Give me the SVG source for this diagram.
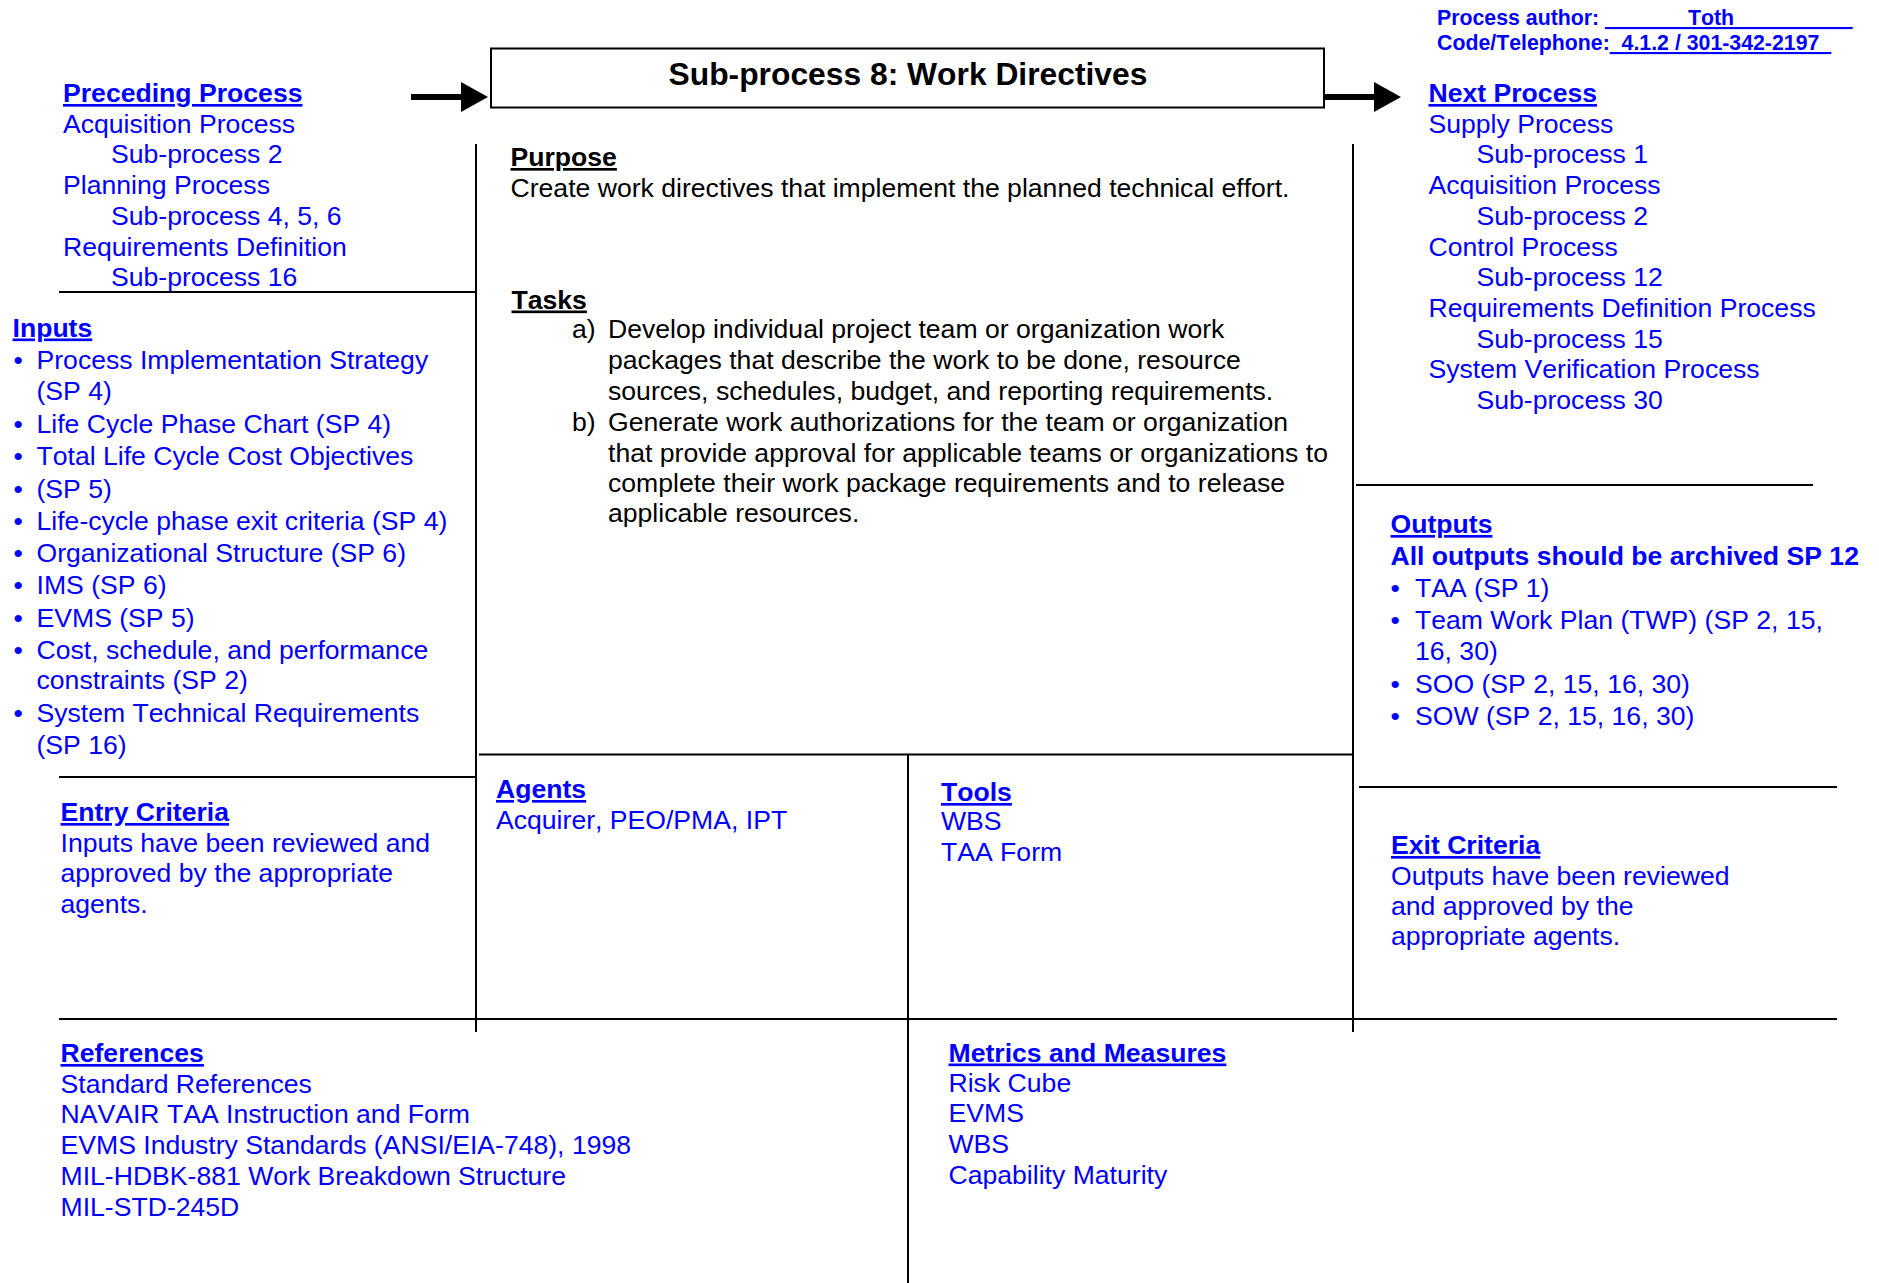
<svg xmlns="http://www.w3.org/2000/svg" width="1879" height="1283" viewBox="0 0 1879 1283">
<style>
text { font-family: "Liberation Sans", Arial, sans-serif; font-size: 26.6px; fill: #0000ff; font-kerning: none; }
.h { font-weight: bold; text-decoration: underline; }
.k { fill: #000000; }
.b { font-weight: bold; }
.meta { font-size: 21.3px; font-weight: bold; }
.title { font-size: 31.8px; font-weight: bold; fill: #000000; }
.ln { stroke: #000000; stroke-width: 2; fill: none; }
.arrow { stroke: #000000; stroke-width: 6; fill: none; marker-end: url(#ah); }
</style>
<defs>
<marker id="ah" markerUnits="userSpaceOnUse" markerWidth="27" markerHeight="30" viewBox="0 0 27 30" refX="0" refY="15" orient="auto">
<path d="M0,0 L27,15 L0,30 Z" fill="#000000"/>
</marker>
</defs>
<rect width="1879" height="1283" fill="#ffffff"/>

<g id="frame-lines">
<line class="ln" x1="59" y1="292" x2="476" y2="292"/>
<line class="ln" x1="476" y1="144" x2="476" y2="1032"/>
<line class="ln" x1="59" y1="777" x2="476" y2="777"/>
<line class="ln" x1="479" y1="754.5" x2="1353" y2="754.5"/>
<line class="ln" x1="908" y1="754" x2="908" y2="1283"/>
<line class="ln" x1="1353" y1="144" x2="1353" y2="1032"/>
<line class="ln" x1="1356" y1="485" x2="1813" y2="485"/>
<line class="ln" x1="1359" y1="787" x2="1837" y2="787"/>
<line class="ln" x1="59" y1="1019" x2="1837" y2="1019"/>
</g>

<g id="connectors">
<line class="arrow" x1="411" y1="97" x2="461" y2="97"/>
<line class="arrow" x1="1324" y1="97" x2="1374" y2="97"/>
</g>

<g id="title-node">
<rect x="491" y="48.5" width="833" height="59" fill="#ffffff" stroke="#000000" stroke-width="2"/>
<text class="title" x="908" y="85" text-anchor="middle">Sub-process 8: Work Directives</text>
</g>

<g id="author">
<text class="meta" x="1437" y="25">Process author: <tspan text-decoration="underline">_______Toth__________</tspan></text>
<text class="meta" x="1437" y="50">Code/Telephone:<tspan text-decoration="underline">_4.1.2 / 301-342-2197_</tspan></text>
</g>

<g id="preceding-process">
<text class="h" x="63" y="102">Preceding Process</text>
<text x="63" y="132.5">Acquisition Process</text>
<text x="111" y="163">Sub-process 2</text>
<text x="63" y="194">Planning Process</text>
<text x="111" y="224.5">Sub-process 4, 5, 6</text>
<text x="63" y="255.5">Requirements Definition</text>
<text x="111" y="286">Sub-process 16</text>
</g>

<g id="inputs">
<text class="h" x="12.5" y="336.5">Inputs</text>
<text x="13.5" y="369">•</text><text x="36.5" y="369">Process Implementation Strategy</text>
<text x="36.5" y="400">(SP 4)</text>
<text x="13.5" y="433">•</text><text x="36.5" y="433">Life Cycle Phase Chart (SP 4)</text>
<text x="13.5" y="465">•</text><text x="36.5" y="465">Total Life Cycle Cost Objectives</text>
<text x="13.5" y="497.5">•</text><text x="36.5" y="497.5">(SP 5)</text>
<text x="13.5" y="530">•</text><text x="36.5" y="530">Life-cycle phase exit criteria (SP 4)</text>
<text x="13.5" y="562">•</text><text x="36.5" y="562">Organizational Structure (SP 6)</text>
<text x="13.5" y="594">•</text><text x="36.5" y="594">IMS (SP 6)</text>
<text x="13.5" y="626.5">•</text><text x="36.5" y="626.5">EVMS (SP 5)</text>
<text x="13.5" y="659">•</text><text x="36.5" y="659">Cost, schedule, and performance</text>
<text x="36.5" y="689">constraints (SP 2)</text>
<text x="13.5" y="722">•</text><text x="36.5" y="722">System Technical Requirements</text>
<text x="36.5" y="753.5">(SP 16)</text>
</g>

<g id="entry-criteria">
<text class="h" x="60.5" y="821">Entry Criteria</text>
<text x="60.5" y="851.5">Inputs have been reviewed and</text>
<text x="60.5" y="881.5">approved by the appropriate</text>
<text x="60.5" y="912.5">agents.</text>
</g>

<g id="purpose-tasks">
<text class="h k" x="510.5" y="166">Purpose</text>
<text class="k" x="510.5" y="197">Create work directives that implement the planned technical effort.</text>
<text class="h k" x="511.5" y="308.5">Tasks</text>
<text class="k" x="572" y="338">a)</text>
<text class="k" x="608" y="338">Develop individual project team or organization work</text>
<text class="k" x="608" y="369">packages that describe the work to be done, resource</text>
<text class="k" x="608" y="400">sources, schedules, budget, and reporting requirements.</text>
<text class="k" x="572" y="431">b)</text>
<text class="k" x="608" y="431">Generate work authorizations for the team or organization</text>
<text class="k" x="608" y="461.5">that provide approval for applicable teams or organizations to</text>
<text class="k" x="608" y="492">complete their work package requirements and to release</text>
<text class="k" x="608" y="522">applicable resources.</text>
</g>

<g id="agents">
<text class="h" x="496" y="798">Agents</text>
<text x="496" y="829">Acquirer, PEO/PMA, IPT</text>
</g>

<g id="tools">
<text class="h" x="941" y="801">Tools</text>
<text x="941" y="830">WBS</text>
<text x="941" y="861">TAA Form</text>
</g>

<g id="next-process">
<text class="h" x="1428.5" y="102">Next Process</text>
<text x="1428.5" y="132.5">Supply Process</text>
<text x="1476.5" y="163">Sub-process 1</text>
<text x="1428.5" y="194">Acquisition Process</text>
<text x="1476.5" y="224.5">Sub-process 2</text>
<text x="1428.5" y="255.5">Control Process</text>
<text x="1476.5" y="286">Sub-process 12</text>
<text x="1428.5" y="317">Requirements Definition Process</text>
<text x="1476.5" y="347.5">Sub-process 15</text>
<text x="1428.5" y="378">System Verification Process</text>
<text x="1476.5" y="409">Sub-process 30</text>
</g>

<g id="outputs">
<text class="h" x="1390.5" y="533">Outputs</text>
<text class="b" x="1390.5" y="564.5">All outputs should be archived SP 12</text>
<text x="1390.5" y="597">•</text><text x="1415" y="597">TAA (SP 1)</text>
<text x="1390.5" y="629">•</text><text x="1415" y="629">Team Work Plan (TWP) (SP 2, 15,</text>
<text x="1415" y="660">16, 30)</text>
<text x="1390.5" y="692.5">•</text><text x="1415" y="692.5">SOO (SP 2, 15, 16, 30)</text>
<text x="1390.5" y="724.5">•</text><text x="1415" y="724.5">SOW (SP 2, 15, 16, 30)</text>
</g>

<g id="exit-criteria">
<text class="h" x="1391" y="854">Exit Criteria</text>
<text x="1391" y="885">Outputs have been reviewed</text>
<text x="1391" y="915">and approved by the</text>
<text x="1391" y="945">appropriate agents.</text>
</g>

<g id="references">
<text class="h" x="60.5" y="1062">References</text>
<text x="60.5" y="1093">Standard References</text>
<text x="60.5" y="1123">NAVAIR TAA Instruction and Form</text>
<text x="60.5" y="1154">EVMS Industry Standards (ANSI/EIA-748), 1998</text>
<text x="60.5" y="1185">MIL-HDBK-881 Work Breakdown Structure</text>
<text x="60.5" y="1215.5">MIL-STD-245D</text>
</g>

<g id="metrics">
<text class="h" x="948.5" y="1061.5">Metrics and Measures</text>
<text x="948.5" y="1092">Risk Cube</text>
<text x="948.5" y="1122">EVMS</text>
<text x="948.5" y="1153">WBS</text>
<text x="948.5" y="1183.5">Capability Maturity</text>
</g>
</svg>
